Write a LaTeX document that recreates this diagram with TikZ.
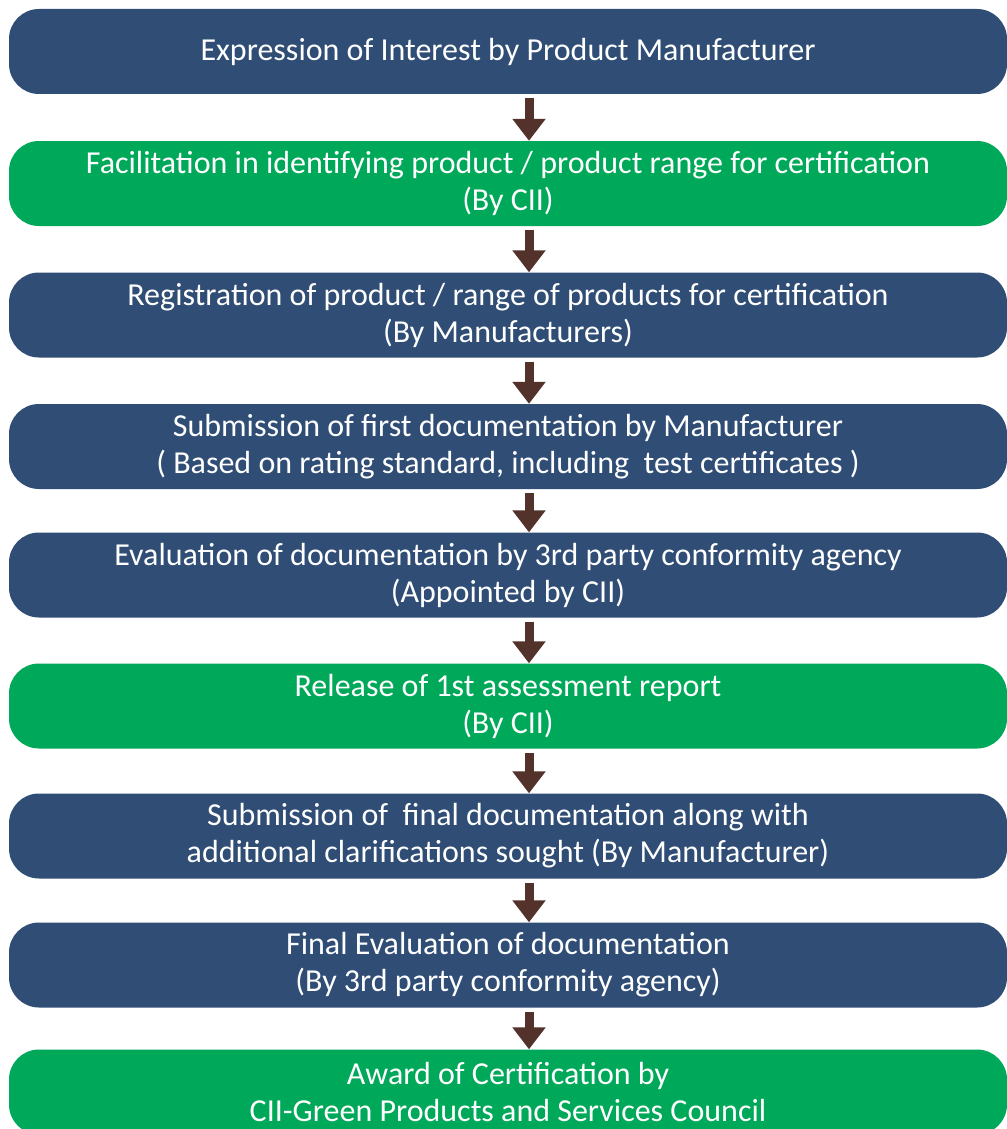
\documentclass[tikz,border=0pt]{standalone}
\usepackage{fontspec}
\setmainfont{Carlito}
\usetikzlibrary{arrows.meta,calc}
\definecolor{stepblue}{RGB}{47,77,117}
\definecolor{stepgreen}{RGB}{0,168,89}
\definecolor{arrowbrown}{RGB}{82,50,42}
\begin{document}
\begin{tikzpicture}[x=1pt,y=-1pt,
    stage/.style={rounded corners=30pt, minimum width=998pt, minimum height=85pt,
        inner sep=0pt, align=center, text=white, font=\fontsize{32}{37}\selectfont},
    bluestage/.style={stage, fill=stepblue},
    greenstage/.style={stage, fill=stepgreen},
    flow/.style={arrowbrown, line width=9pt, -{Triangle[width=32pt,length=22pt]}}]
        \useasboundingbox (0,0) rectangle (1006,1129);
        %stages
        \node[bluestage] (interest) at (508,51.5) {Expression of Interest by Product Manufacturer};
        \node[greenstage] (facilitation) at (508,183.5) {Facilitation in identifying product / product range for certification\\(By CII)};
        \node[bluestage] (registration) at (508,315) {Registration of product / range of products for certification\\(By Manufacturers)};
        \node[bluestage] (firstdoc) at (508,446.5) {Submission of first documentation by Manufacturer\\( Based on rating standard, including\ \ test certificates )};
        \node[bluestage] (evaluation) at (508,575) {Evaluation of documentation by 3rd party conformity agency\\(Appointed by CII)};
        \node[greenstage] (report) at (508,706) {Release of 1st assessment report\\(By CII)};
        \node[bluestage] (finaldoc) at (508,836) {Submission of\ \ final documentation along with\\additional clarifications sought (By Manufacturer)};
        \node[bluestage] (finaleval) at (508,965) {Final Evaluation of documentation\\(By 3rd party conformity agency)};
        \node[greenstage] (award) at (508,1092) {Award of Certification by\\CII-Green Products and Services Council};
        %arrows
        \draw[flow] ($(interest.south)+(21,4)$) -- ($(facilitation.north)+(21,0)$);
        \draw[flow] ($(facilitation.south)+(21,4)$) -- ($(registration.north)+(21,0)$);
        \draw[flow] ($(registration.south)+(21,4)$) -- ($(firstdoc.north)+(21,0)$);
        \draw[flow] ($(firstdoc.south)+(21,4)$) -- ($(evaluation.north)+(21,0)$);
        \draw[flow] ($(evaluation.south)+(21,4)$) -- ($(report.north)+(21,0)$);
        \draw[flow] ($(report.south)+(21,4)$) -- ($(finaldoc.north)+(21,0)$);
        \draw[flow] ($(finaldoc.south)+(21,4)$) -- ($(finaleval.north)+(21,0)$);
        \draw[flow] ($(finaleval.south)+(21,4)$) -- ($(award.north)+(21,0)$);
\end{tikzpicture}
\end{document}
